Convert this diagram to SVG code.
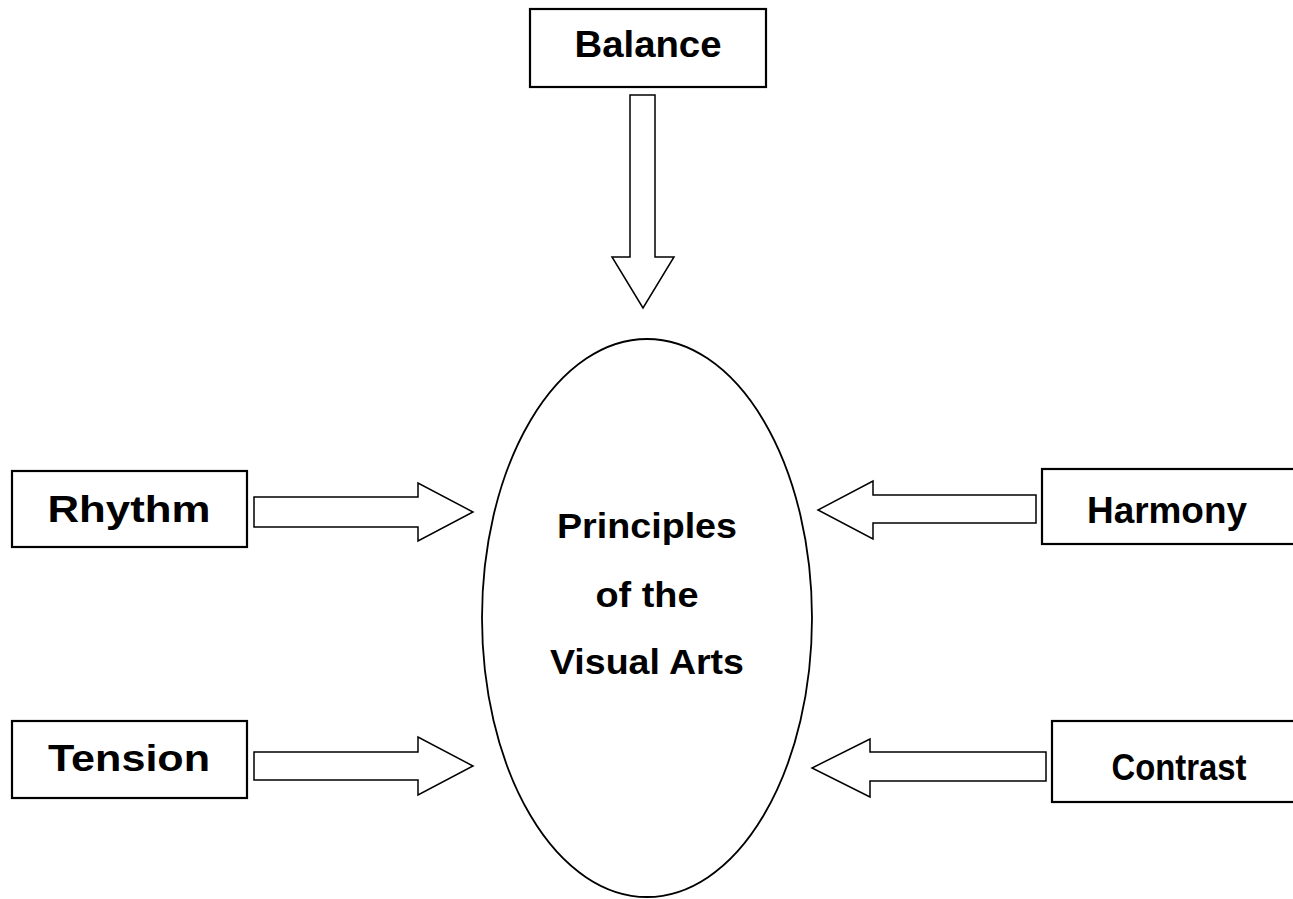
<svg xmlns="http://www.w3.org/2000/svg" width="1293" height="899" viewBox="0 0 1293 899">
<style>
.box{fill:#fff;stroke:#000;stroke-width:2.2}
.arr{fill:#fff;stroke:#000;stroke-width:1.5;stroke-linejoin:miter}
.ell{fill:#fff;stroke:#000;stroke-width:1.8}
text{font-family:"Liberation Sans",Arial,sans-serif;font-weight:bold;fill:#000;text-anchor:middle}
.lbl{font-size:37px}
.ctr{font-size:35px}
</style>
<rect width="1293" height="899" fill="#fff"/>
<g id="connectors">
<path class="arr" d="M630,95 H655 V257 H674 L643,308 L612,257 H630 Z"/>
<path class="arr" d="M254,497 H418 V483 L473,512 L418,541 V527 H254 Z"/>
<path class="arr" d="M1036,495 H873 V481 L818,510 L873,539 V523 H1036 Z"/>
<path class="arr" d="M254,752 H418 V737 L473,766 L418,795 V780 H254 Z"/>
<path class="arr" d="M1046,752 H870 V739 L812,768 L870,797 V781 H1046 Z"/>
</g>
<g id="center">
<ellipse class="ell" cx="647" cy="618" rx="165" ry="279"/>
<text class="ctr" x="647" y="538" textLength="180" lengthAdjust="spacingAndGlyphs">Principles</text>
<text class="ctr" x="647" y="607" textLength="103" lengthAdjust="spacingAndGlyphs">of the</text>
<text class="ctr" x="647" y="674" textLength="194" lengthAdjust="spacingAndGlyphs">Visual Arts</text>
</g>
<g id="balance">
<rect class="box" x="530" y="9" width="236" height="78"/>
<text class="lbl" x="648" y="57" textLength="147" lengthAdjust="spacingAndGlyphs">Balance</text>
</g>
<g id="rhythm">
<rect class="box" x="12" y="471" width="235" height="76"/>
<text class="lbl" x="129" y="522" textLength="163" lengthAdjust="spacingAndGlyphs">Rhythm</text>
</g>
<g id="harmony">
<rect class="box" x="1042" y="469" width="270" height="75"/>
<text class="lbl" x="1167" y="523" textLength="160" lengthAdjust="spacingAndGlyphs">Harmony</text>
</g>
<g id="tension">
<rect class="box" x="12" y="721" width="235" height="77"/>
<text class="lbl" x="129" y="771" textLength="162" lengthAdjust="spacingAndGlyphs">Tension</text>
</g>
<g id="contrast">
<rect class="box" x="1052" y="721" width="260" height="81"/>
<text class="lbl" x="1179" y="780" textLength="135" lengthAdjust="spacingAndGlyphs">Contrast</text>
</g>
</svg>
